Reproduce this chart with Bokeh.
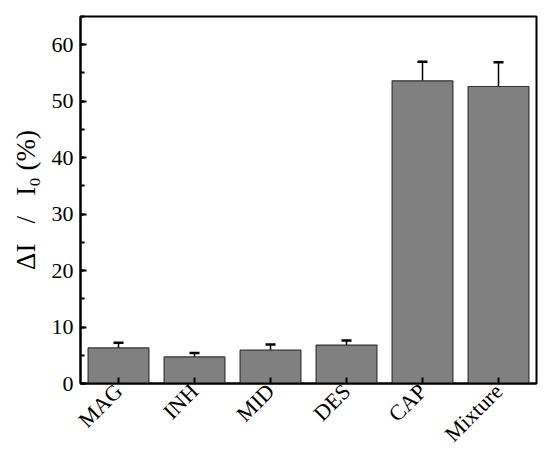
import math
from bokeh.plotting import figure
from bokeh.models import ColumnDataSource, Whisker, TeeHead, Range1d
from bokeh.embed import file_html
from bokeh.resources import INLINE

categories = ["MAG", "INH", "MID", "DES", "CAP", "Mixture"]
values = [6.3, 4.7, 5.9, 6.8, 53.6, 52.6]
errors = [0.9, 0.7, 1.0, 0.8, 3.4, 4.3]

src = ColumnDataSource(dict(
    cat=categories,
    val=values,
    top=[v + e for v, e in zip(values, errors)],
))

p = figure(x_range=categories, y_range=Range1d(0, 65), width=542, height=458,
           output_backend="svg", toolbar_location=None,
           min_border_left=80, min_border_right=6, min_border_top=16, min_border_bottom=75)

p.vbar(x="cat", top="val", width=0.8, source=src, fill_color="#808080",
       line_color="#333333", line_width=1.2)

w = Whisker(base="cat", upper="top", lower="val", source=src,
            line_color="black", line_width=1.5,
            upper_head=TeeHead(size=10, line_color="black", line_width=2.5),
            lower_head=None)
p.add_layout(w)

FONT = "Liberation Serif"

p.xgrid.visible = False
p.ygrid.visible = False
p.outline_line_color = "black"
p.outline_line_width = 2
p.outline_line_alpha = 1

for ax in (p.xaxis[0], p.yaxis[0]):
    ax.axis_line_width = 2
    ax.axis_line_color = "black"
    ax.major_tick_in = 6
    ax.major_tick_out = 0
    ax.major_tick_line_width = 2
    ax.minor_tick_in = 4
    ax.minor_tick_out = 0
    ax.minor_tick_line_width = 2
    ax.major_label_text_font = FONT
    ax.major_label_text_font_size = "22px"
    ax.major_label_text_color = "black"

p.xaxis.major_label_text_font_size = "22px"
p.xaxis.major_label_orientation = math.pi / 4
p.xaxis.major_label_standoff = 4

p.yaxis.ticker.desired_num_ticks = 7
p.yaxis.ticker.num_minor_ticks = 2
p.yaxis.major_label_standoff = 7
p.yaxis.axis_label = "ΔI\u2002\u2005/\u2002\u2005I₀ (%)"
p.yaxis.axis_label_text_font = FONT
p.yaxis.axis_label_text_font_size = "27px"
p.yaxis.axis_label_text_font_style = "normal"
p.yaxis.axis_label_text_color = "black"
p.yaxis.axis_label_standoff = 8

p.background_fill_color = "white"
p.border_fill_color = "white"

open("out.html", "w").write(file_html(p, INLINE))
